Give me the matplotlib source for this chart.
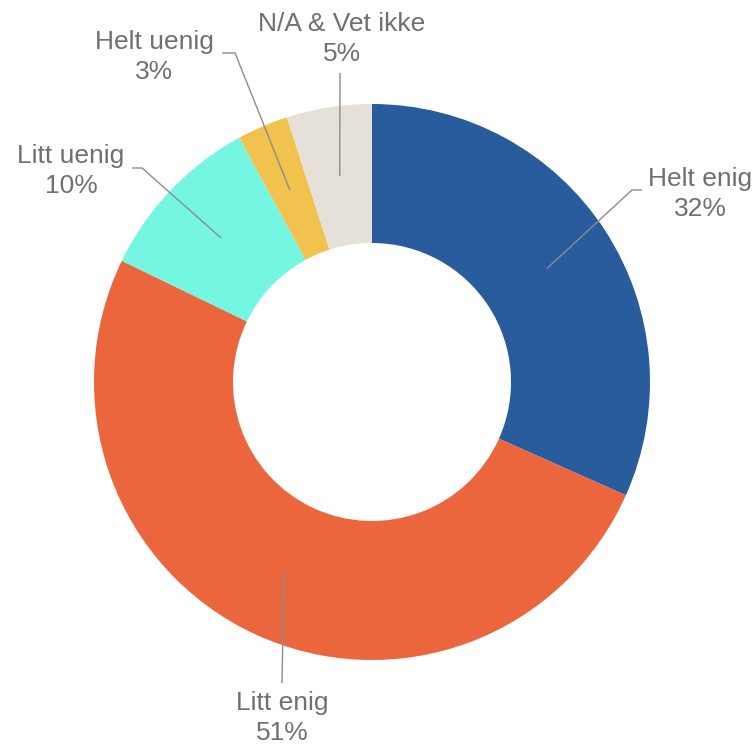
import matplotlib.pyplot as plt
import numpy as np

# svar fordelt på kategorier (prosent)
kategorier = ["Helt enig", "Litt enig", "Litt uenig", "Helt uenig", "N/A & Vet ikke"]
andeler = [32, 51, 10, 3, 5]
farger = ["#285C9C", "#EB663D", "#74F6E3", "#F2C24E", "#E6E1D8"]

# plassering av etiketter (piksler, y nedover) og knekkpunkt for linjene
etikett_pos = [(700, 194), (282, 718), (71, 171), (154, 57), (342, 39)]
knekk = [[(632, 190), (642, 190)],
         [(282, 683)],
         [(142, 168), (132, 168)],
         [(235, 53), (222, 53)],
         [(340, 73)]]

B, H = 756, 744
fig = plt.figure(figsize=(B / 100, H / 100), dpi=100)
ax = fig.add_axes([0, 0, 1, 1])

senter = (372, H - 382)
r_ytre = 278
bredde = 139

wedges, _ = ax.pie(andeler, colors=farger, startangle=90, counterclock=False,
                   radius=r_ytre, center=senter, frame=True,
                   wedgeprops=dict(width=bredde, linewidth=0))
ax.set_xlim(0, B)
ax.set_ylim(0, H)
ax.set_aspect("equal")
ax.axis("off")

r_mid = r_ytre - bredde / 2
for w, navn, verdi, pos, pkt in zip(wedges, kategorier, andeler, etikett_pos, knekk):
    vinkel = np.deg2rad((w.theta1 + w.theta2) / 2)
    x0 = senter[0] + r_mid * np.cos(vinkel)
    y0 = senter[1] + r_mid * np.sin(vinkel)
    xs = [x0] + [p[0] for p in pkt]
    ys = [y0] + [H - p[1] for p in pkt]
    ax.plot(xs, ys, color="#8c8c8c", lw=1.0, solid_capstyle="butt")
    ax.text(pos[0], H - pos[1], f"{navn}\n{verdi}%", ha="center", va="center",
            multialignment="center", fontsize=19, color="#707070",
            family="Liberation Sans", linespacing=1.3)

fig.savefig("out.png", dpi=100, facecolor="white")
